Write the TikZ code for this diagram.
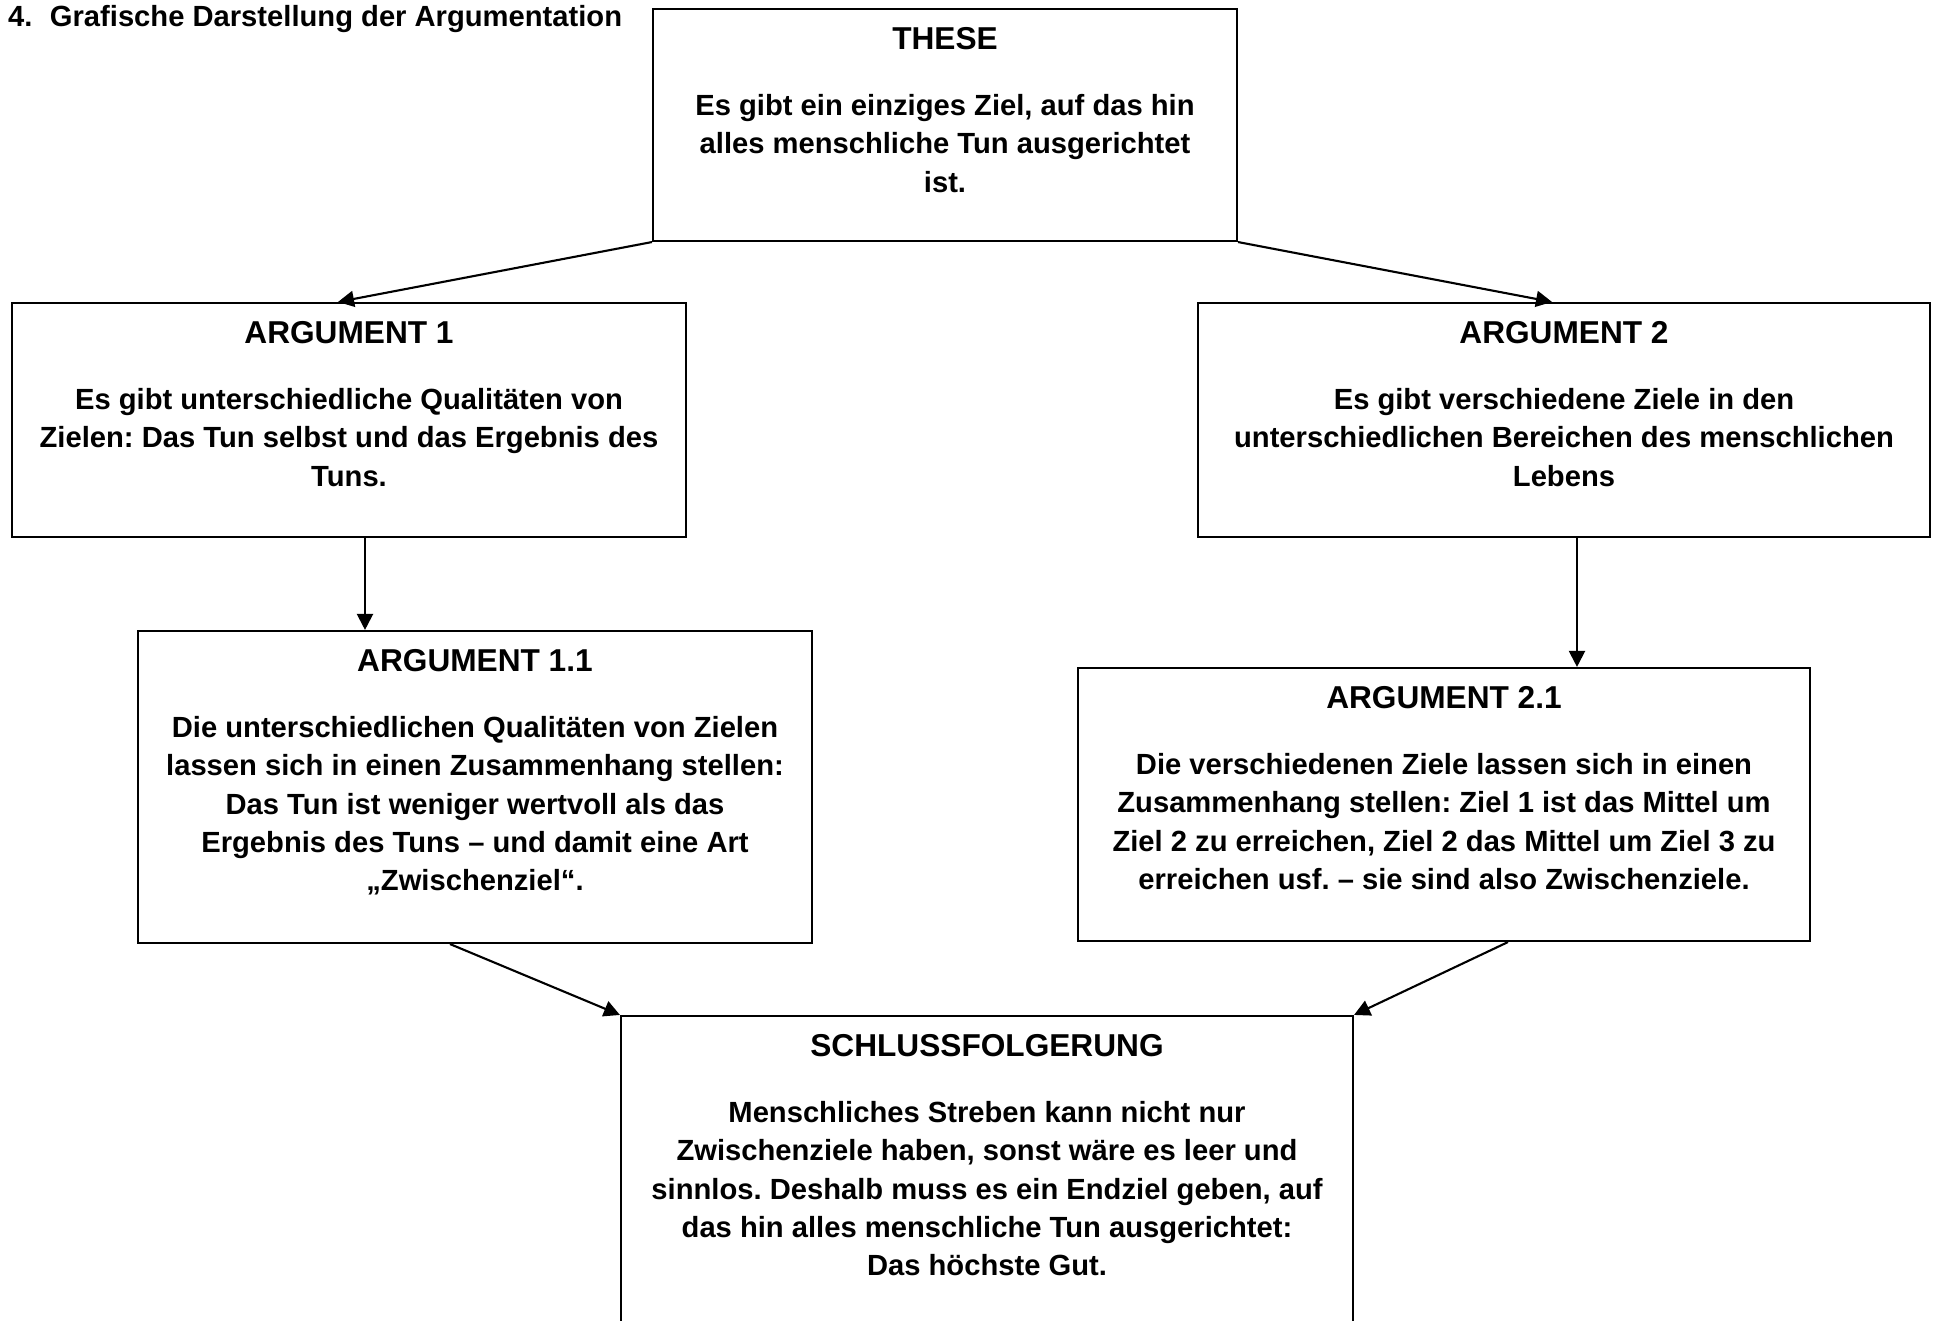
\documentclass[tikz,border=0pt]{standalone}
\usepackage{fontspec}
\setmainfont{Liberation Sans}
\frenchspacing
\usetikzlibrary{positioning,arrows.meta}
\tikzset{abox/.style={
    rectangle,
    draw,
    inner sep=0pt
  },
  atext/.style={
    align=center,
    inner sep=0pt,
    font=\bfseries\fontsize{8.3}{10.9}\selectfont
  },
}
\newcommand{\titel}[1]{{\fontsize{9}{10.9}\selectfont #1}}

\begin{document}
\begin{tikzpicture}[x=0.1mm,y={(0mm,-0.1mm)},line width=0.6pt,
    >={Triangle[length=1.6mm,width=1.6mm]}]
  \useasboundingbox (0,0) rectangle (1937,1321);
  \node[atext,anchor=west] (head) at (7,19)
  {4.\hspace{5pt}Grafische Darstellung der Argumentation};
  % Kaesten
  \node[abox,minimum width=58.4mm,minimum height=23.2mm] (these) at (945,125) {};
  \node[abox,minimum width=67.4mm,minimum height=23.4mm] (arg1) at (349,420) {};
  \node[abox,minimum width=73.2mm,minimum height=23.4mm] (arg2) at (1564,420) {};
  \node[abox,minimum width=67.4mm,minimum height=31.2mm] (arg11) at (475,787) {};
  \node[abox,minimum width=73.2mm,minimum height=27.3mm] (arg21) at (1444,804.5) {};
  \node[abox,minimum width=73.2mm,minimum height=40mm] (schluss) at (987,1216) {};
  % Texte
  \node[atext,below=1.8mm of these.north] (these-t) {\titel{THESE}\\[8pt]
    Es gibt ein einziges Ziel, auf das hin\\
    alles menschliche Tun ausgerichtet\\
    ist.};
  \node[atext,below=1.8mm of arg1.north] (arg1-t) {\titel{ARGUMENT 1}\\[8pt]
    Es gibt unterschiedliche Qualitäten von\\
    Zielen: Das Tun selbst und das Ergebnis des\\
    Tuns.};
  \node[atext,below=1.8mm of arg2.north] (arg2-t) {\titel{ARGUMENT 2}\\[8pt]
    Es gibt verschiedene Ziele in den\\
    unterschiedlichen Bereichen des menschlichen\\
    Lebens};
  \node[atext,below=1.8mm of arg11.north] (arg11-t) {\titel{ARGUMENT 1.1}\\[8pt]
    Die unterschiedlichen Qualitäten von Zielen\\
    lassen sich in einen Zusammenhang stellen:\\
    Das Tun ist weniger wertvoll als das\\
    Ergebnis des Tuns – und damit eine Art\\
    „Zwischenziel“.};
  \node[atext,below=1.8mm of arg21.north] (arg21-t) {\titel{ARGUMENT 2.1}\\[8pt]
    Die verschiedenen Ziele lassen sich in einen\\
    Zusammenhang stellen: Ziel 1 ist das Mittel um\\
    Ziel 2 zu erreichen, Ziel 2 das Mittel um Ziel 3 zu\\
    erreichen usf. – sie sind also Zwischenziele.};
  \node[atext,below=1.8mm of schluss.north] (schluss-t) {\titel{SCHLUSSFOLGERUNG}\\[8pt]
    Menschliches Streben kann nicht nur\\
    Zwischenziele haben, sonst wäre es leer und\\
    sinnlos. Deshalb muss es ein Endziel geben, auf\\
    das hin alles menschliche Tun ausgerichtet:\\
    Das höchste Gut.};
  % Pfeile
  \draw[->] (these.south west) -- ([xshift=-1.1mm]arg1.north);
  \draw[->] (these.south east) -- ([xshift=-1.2mm]arg2.north);
  \draw[->] ([xshift=1.6mm]arg1.south) -- ([xshift=1.6mm]arg1.south |- arg11.north);
  \draw[->] ([xshift=1.3mm]arg2.south) -- ([xshift=1.3mm]arg2.south |- arg21.north);
  \draw[->] ([xshift=-2.5mm]arg11.south) -- (schluss.north west);
  \draw[->] ([xshift=6.4mm]arg21.south) -- (schluss.north east);
\end{tikzpicture}
\end{document}
